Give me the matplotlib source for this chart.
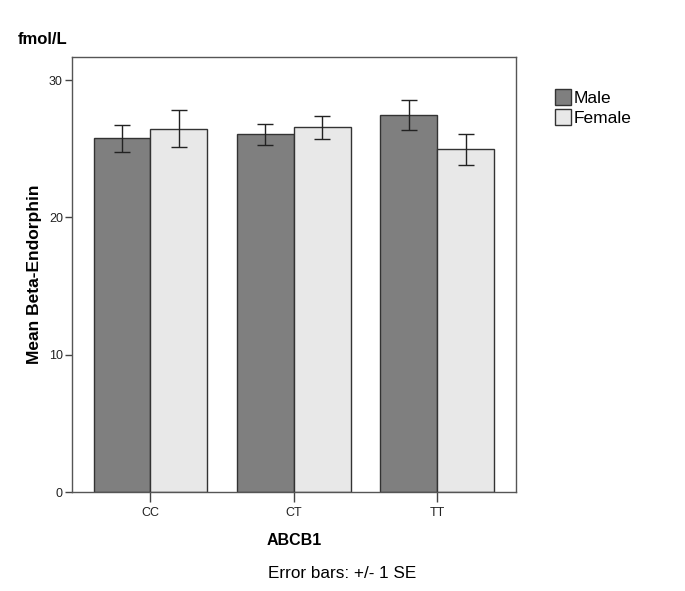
import numpy as np
import matplotlib
matplotlib.use("Agg")
import matplotlib.pyplot as plt
from matplotlib.patches import Patch

plt.rcParams['font.family'] = ['Liberation Sans', 'DejaVu Sans']

# data
genotypes = ['CC', 'CT', 'TT']
male_mean = [25.75, 26.05, 27.45]
male_se = [1.0, 0.77, 1.1]
female_mean = [26.45, 26.55, 24.95]
female_se = [1.35, 0.87, 1.1]

male_color = '#7f7f7f'
female_color = '#e8e8e8'
edge = '#333333'

fig = plt.figure(figsize=(6.85, 5.91), dpi=100)
ax = fig.add_axes([0.105, 0.1675, 0.648, 0.7355])

x = np.arange(len(genotypes))
w = 0.397
ax.bar(x - w / 2, male_mean, w, color=male_color, edgecolor=edge, linewidth=1.0, zorder=2)
ax.bar(x + w / 2, female_mean, w, color=female_color, edgecolor=edge, linewidth=1.0, zorder=2)
ax.errorbar(x - w / 2, male_mean, yerr=male_se, fmt='none', ecolor='#222222',
            elinewidth=1.0, capsize=6, capthick=1.0, zorder=3)
ax.errorbar(x + w / 2, female_mean, yerr=female_se, fmt='none', ecolor='#222222',
            elinewidth=1.0, capsize=6, capthick=1.0, zorder=3)

ax.set_xlim(-0.548, 2.548)
ax.set_ylim(0, 31.66)
ax.set_yticks([0, 10, 20, 30])
ax.set_xticks(x)
ax.set_xticklabels(genotypes)
ax.tick_params(axis='both', direction='out', length=5, width=1.0, color='#444444',
               labelsize=9, labelcolor='#222222', pad=1.5)
ax.tick_params(axis='x', length=7, pad=4)
for sp in ax.spines.values():
    sp.set_color('#555555')
    sp.set_linewidth(1.0)

ax.set_xlabel('ABCB1', fontsize=11.5, fontweight='bold', labelpad=10)
ax.set_ylabel('Mean Beta-Endorphin', fontsize=12.5, fontweight='bold', labelpad=5)

fig.text(18 / 685, 1 - 40 / 591, 'fmol/L', fontsize=12, fontweight='bold', va='center', ha='left')
fig.text(342 / 685, 1 - 573 / 591, 'Error bars: +/- 1 SE', fontsize=12.3, va='center', ha='center')

handles = [Patch(facecolor=male_color, edgecolor=edge), Patch(facecolor=female_color, edgecolor=edge)]
fig.legend(handles, ['Male', 'Female'], loc='upper left', bbox_to_anchor=(555 / 685, 1 - 89 / 591),
           frameon=False, fontsize=12.5, handlelength=0.95, handleheight=1.0,
           handletextpad=0.15, labelspacing=0.2, borderaxespad=0, borderpad=0)

fig.savefig('out.png', dpi=100)
